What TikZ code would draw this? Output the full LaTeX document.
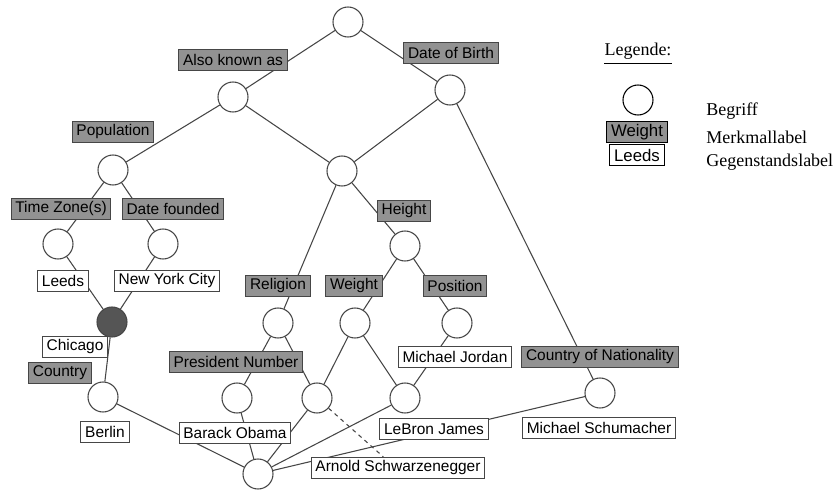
\documentclass[tikz,border=0pt]{standalone}
\usepackage{fontspec}
\setmainfont{Liberation Serif}
\setsansfont{Liberation Sans}
\definecolor{featfill}{RGB}{146,146,146}
\definecolor{linecol}{RGB}{70,70,70}
\definecolor{darkconcept}{RGB}{85,85,85}
\begin{document}
\begin{tikzpicture}[x=0.75pt,y=-0.75pt,
  concept/.style={circle, draw=linecol, line width=0.8pt, fill=white,
    minimum size=22.5pt, inner sep=0pt},
  labelbox/.style={draw=linecol, line width=0.8pt,
    font=\sffamily\fontsize{11.6}{13}\selectfont,
    inner xsep=3.2pt, inner ysep=0pt, minimum height=16pt},
  featlabel/.style={labelbox, fill=featfill},
  objlabel/.style={labelbox, fill=white},
  legendbox/.style={draw=black, font=\sffamily\fontsize{12.6}{14}\selectfont,
    inner xsep=3.4pt, inner ysep=0pt, minimum height=15.5pt},
  edge/.style={draw=linecol, line width=0.8pt},
  legendtext/.style={font=\fontsize{13.5}{15}\selectfont, anchor=west, inner sep=0pt}]
\useasboundingbox (0,0) rectangle (840,491);

% concepts of the lattice
\node[concept] (top) at (348,22) {};
\node[concept] (aka) at (233,97) {};
\node[concept] (dob) at (450,90) {};
\node[concept] (pop) at (113,170) {};
\node[concept] (mid) at (342,171) {};
\node[concept] (tz) at (58,244) {};
\node[concept] (df) at (163,244) {};
\node[concept] (hgt) at (405,246) {};
\node[concept, fill=darkconcept] (chi) at (112,322) {};
\node[concept] (rel) at (278,323) {};
\node[concept] (wgt) at (355,323) {};
\node[concept] (pos) at (457,323) {};
\node[concept] (ctry) at (103,397) {};
\node[concept] (obama) at (237,398) {};
\node[concept] (arn) at (317,398) {};
\node[concept] (lebron) at (405,398) {};
\node[concept] (msch) at (600,393) {};
\node[concept] (bot) at (258,474) {};

% lattice edges
\draw[edge] (top) -- (aka);
\draw[edge] (top) -- (dob);
\draw[edge] (aka) -- (pop);
\draw[edge] (aka) -- (mid);
\draw[edge] (dob) -- (mid);
\draw[edge] (dob) -- (msch);
\draw[edge] (pop) -- (tz);
\draw[edge] (pop) -- (df);
\draw[edge] (tz) -- (chi);
\draw[edge] (df) -- (chi);
\draw[edge] (chi) -- (ctry);
\draw[edge] (mid) -- (rel);
\draw[edge] (mid) -- (hgt);
\draw[edge] (hgt) -- (wgt);
\draw[edge] (hgt) -- (pos);
\draw[edge] (rel) -- (obama);
\draw[edge] (rel) -- (arn);
\draw[edge] (wgt) -- (arn);
\draw[edge] (wgt) -- (lebron);
\draw[edge] (pos) -- (lebron);
\draw[edge] (ctry) -- (bot);
\draw[edge] (obama) -- (bot);
\draw[edge] (arn) -- (bot);
\draw[edge] (lebron) -- (bot);
\draw[edge] (msch) -- (bot);

% attribute labels
\node[featlabel] (akaL) at (233,60) {Also known as};
\node[featlabel] (dobL) at (451,53) {Date of Birth};
\node[featlabel] (popL) at (113,132) {Population};
\node[featlabel] (tzL) at (61,209) {Time Zone(s)};
\node[featlabel] (dfL) at (173,209) {Date founded};
\node[featlabel] (hgtL) at (404,211) {Height};
\node[featlabel] (relL) at (278,286) {Religion};
\node[featlabel] (wgtL) at (354,286) {Weight};
\node[featlabel] (posL) at (455,286) {Position};
\node[featlabel] (pnL) at (236,362) {President Number};
\node[featlabel] (conL) at (600,357) {Country of Nationality};
\node[featlabel] (ctryL) at (60,373) {Country};

% object labels
\node[objlabel] (leedsL) at (63,281) {Leeds};
\node[objlabel] (nycL) at (167,281) {New York City};
\node[objlabel] (chiL) at (75,347) {Chicago};
\node[objlabel] (berL) at (105,432) {Berlin};
\node[objlabel] (mjL) at (455,357) {Michael Jordan};
\node[objlabel] (obamaL) at (235,433) {Barack Obama};
\node[objlabel] (lebronL) at (434,429) {LeBron James};
\node[objlabel] (mschL) at (599,428) {Michael Schumacher};
\node[objlabel] (arnL) at (398,468) {Arnold Schwarzenegger};
\draw[edge, dashed] (arn) -- ([xshift=-11pt]arnL.north);

% legend
\node[font=\fontsize{13.5}{15}\selectfont, inner sep=0pt] (legT) at (638,51) {Legende:};
\draw[line width=0.6pt] ([yshift=-3pt]legT.south west) -- ([yshift=-3pt]legT.south east);
\node[concept, draw=black] (legC) at (638,100) {};
\node[legendbox, fill=featfill] (legF) at (637,132) {Weight};
\node[legendbox, fill=white] (legO) at (637,155) {Leeds};
\node[legendtext] (legCt) at (706,111) {Begriff};
\node[legendtext] (legFt) at (706,137) {Merkmallabel};
\node[legendtext] (legOt) at (706,162) {Gegenstandslabel};
\end{tikzpicture}
\end{document}
